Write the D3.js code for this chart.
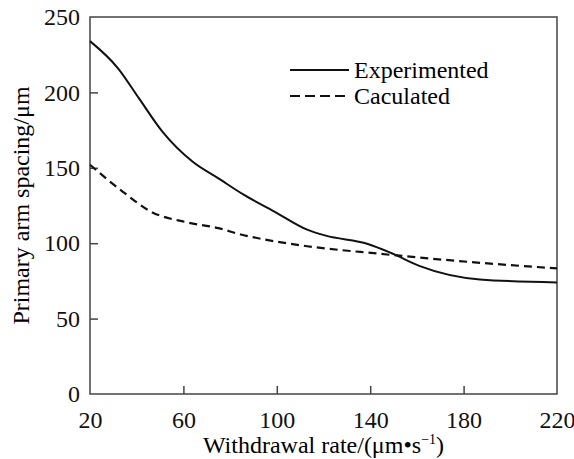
<!DOCTYPE html>
<html>
<head>
<meta charset="utf-8">
<script src="https://cdn.jsdelivr.net/npm/d3@7"></script>
<style>
  body { margin: 0; background: #fff; }
</style>
</head>
<body>
<div id="chart"></div>
<script>
// Withdrawal rate (um/s) vs primary arm spacing (um)
var experimentedX = [20, 32, 41, 51, 64, 75, 86, 99, 113, 121, 139, 149, 161, 187, 220],
  experimentedY = [234, 216, 196, 174, 154, 143, 132, 121, 109, 105, 99.5, 93.5, 85, 76, 74],
  calculatedX = [20, 35, 46, 61, 75, 84, 100, 113, 144, 154, 187, 220],
  calculatedY = [152, 133, 121, 114, 110, 106, 101, 98, 93, 91.5, 87, 83.3],
  xTicks = [20, 60, 100, 140, 180, 220],
  yTicks = [0, 50, 100, 150, 200, 250],
  seriesNames = ["Experimented", "Caculated"];

var width = 574,
  height = 459,
  margin = {top: 17, right: 17, bottom: 65, left: 90},
  innerW = width - margin.left - margin.right,
  innerH = height - margin.top - margin.bottom,
  axisColor = "#444",
  serif = "'Liberation Serif', 'Times New Roman', Times, 'DejaVu Serif', serif";

var svg = d3.select("#chart").append("svg")
  .attr("width", width)
  .attr("height", height)
  .attr("font-family", serif);

var g = svg.append("g")
  .attr("transform", "translate(" + margin.left + "," + margin.top + ")");

var x = d3.scaleLinear().domain([20, 220]).range([0, innerW]),
  y = d3.scaleLinear().domain([0, 250]).range([innerH, 0]);

// Frame around the plot area.
g.append("rect")
  .attr("width", innerW)
  .attr("height", innerH)
  .attr("fill", "none")
  .attr("stroke", axisColor)
  .attr("stroke-width", 1.5);

// Bottom axis, ticks pointing inward.
var xAxis = g.append("g")
  .attr("transform", "translate(0," + innerH + ")")
  .call(d3.axisBottom(x).tickValues(xTicks).tickSizeInner(-8).tickSizeOuter(0).tickPadding(17));

// Left axis, ticks pointing inward.
var yAxis = g.append("g")
  .call(d3.axisLeft(y).tickValues(yTicks).tickSizeInner(-8).tickSizeOuter(0).tickPadding(10));

[xAxis, yAxis].forEach(function (a) {
  a.attr("font-family", null);
  a.select(".domain").remove();
  a.selectAll(".tick line").attr("stroke", axisColor).attr("stroke-width", 1.5);
  a.selectAll(".tick text").style("font-size", "24px").attr("fill", "#111");
});
// The 0 and 250 ticks sit on the frame.
yAxis.selectAll(".tick").filter(function (d) { return d === 0 || d === 250; }).select("line").remove();
xAxis.selectAll(".tick").filter(function (d) { return d === 20 || d === 220; }).select("line").remove();

var line = d3.line()
  .x(function (d) { return x(d[0]); })
  .y(function (d) { return y(d[1]); })
  .curve(d3.curveMonotoneX);

var expData = experimentedX.map(function (v, i) { return [v, experimentedY[i]]; }),
  calcData = calculatedX.map(function (v, i) { return [v, calculatedY[i]]; });

g.append("path")
  .datum(expData)
  .attr("d", line)
  .attr("fill", "none")
  .attr("stroke", "#111")
  .attr("stroke-width", 2);

g.append("path")
  .datum(calcData)
  .attr("d", line)
  .attr("fill", "none")
  .attr("stroke", "#111")
  .attr("stroke-width", 2.2)
  .attr("stroke-dasharray", "8,5");

// Legend.
var legend = svg.append("g").attr("transform", "translate(290,70)");
seriesNames.forEach(function (name, i) {
  var row = legend.append("g").attr("transform", "translate(0," + (i * 26) + ")");
  row.append("line")
    .attr("x1", 0).attr("x2", 59)
    .attr("stroke", "#111")
    .attr("stroke-width", 2)
    .attr("stroke-dasharray", i === 1 ? "10,5" : null);
  row.append("text")
    .attr("x", 64)
    .attr("y", 8)
    .style("font-size", "24px")
    .text(name);
});

// Axis titles.
svg.append("text")
  .attr("x", margin.left + innerW / 2)
  .attr("y", 453)
  .attr("text-anchor", "middle")
  .style("font-size", "24px")
  .html("Withdrawal rate/(μm•s<tspan dy='-9' font-size='14px'>−1</tspan><tspan dy='9'>)</tspan>");

svg.append("text")
  .attr("transform", "translate(29," + (margin.top + innerH / 2) + ") rotate(-90)")
  .attr("text-anchor", "middle")
  .style("font-size", "24px")
  .text("Primary arm spacing/μm");

svg.selectAll("text").style("font-family", serif);
</script>
</body>
</html>
